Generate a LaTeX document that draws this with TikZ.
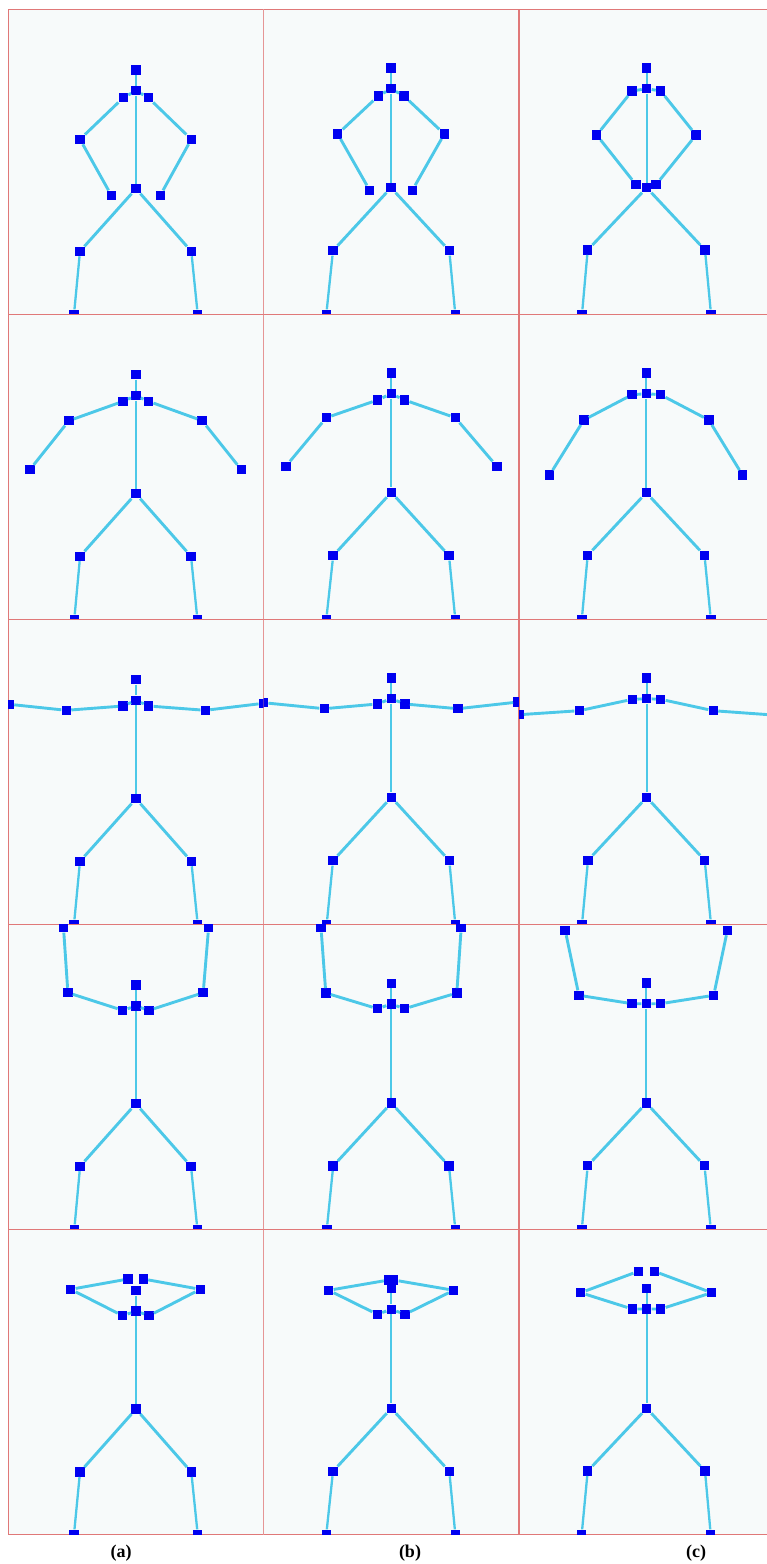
\documentclass[tikz,border=0pt]{standalone}
\usepackage{fontspec}
\newfontfamily\capfont{Liberation Serif}
\usepackage{xcolor}
\definecolor{bonecyan}{RGB}{76,200,232}
\definecolor{jointblue}{RGB}{0,0,240}
\definecolor{panelbg}{RGB}{247,250,250}
\definecolor{panelred}{RGB}{224,120,120}
\usepackage{tikz}
\usetikzlibrary{positioning}

\tikzset{
  joint/.style={rectangle, fill=jointblue, inner sep=0pt, minimum size=9.5pt},
  bone/.style={draw=bonecyan, line width=2.9pt},
  shin/.style={draw=bonecyan, line width=2.3pt},
  spine/.style={draw=bonecyan, line width=2pt},
  panelbox/.style={fill=panelbg, draw=panelred, line width=1.4pt},
  caption/.style={font=\capfont\bfseries\fontsize{18}{21}\selectfont}
}

% one pose: #1 prefix, #2/#3 top left corner, #4 joints name/x/y
\newcommand{\posepanel}[4]{%
  \begin{scope}
    \clip (#2,#3) rectangle ++(255.5,305);
    \draw[panelbox] (#2,#3) rectangle ++(255.5,305);
    \foreach \j/\px/\py in {#4}
      \node[joint] (#1-\j) at (\px,\py) {};
    \draw[spine] (#1-h) -- (#1-n);
    \draw[spine] (#1-n) -- (#1-hp);
    \draw[bone] (#1-n) -- (#1-ls) -- (#1-le) -- (#1-lh);
    \draw[bone] (#1-n) -- (#1-rs) -- (#1-re) -- (#1-rh);
    \draw[bone] (#1-hp) -- (#1-lk);
    \draw[bone] (#1-hp) -- (#1-rk);
    \draw[shin] (#1-lk) -- (#1-lf);
    \draw[shin] (#1-rk) -- (#1-rf);
  \end{scope}}

\begin{document}
\begin{tikzpicture}[x=1pt, y=-1pt]
  \useasboundingbox (0,0) rectangle (766,1564);

  % --- Row 1: hands at the hips ---
  \posepanel{a1}{8}{9.5}{h/136/70, n/136/90.7, ls/123.3/97.7, rs/148.3/97.7, le/80/139.3, re/191.3/139.3, lh/111.3/195.3, rh/160.3/195.3, hp/136/188.7, lk/80/251.3, rk/191.3/251.3, lf/74/314.3, rf/197.7/314.3}
  \posepanel{b1}{263.5}{9.5}{h/391/68, n/391/88.7, ls/378.3/96, rs/404/96, le/337.7/134, re/444.3/134, lh/369.7/190.3, rh/412.3/190.3, hp/391/187.7, lk/333/250.7, rk/449.3/250.7, lf/326.3/314.3, rf/455.3/314.3}
  \posepanel{c1}{519}{9.5}{h/646.7/68, n/646.7/88.7, ls/632/91, rs/660.7/91, le/596.7/135, re/696/135, lh/636/184.7, rh/656/184.7, hp/646.7/187.7, lk/587.7/250, rk/705/250, lf/582/314.3, rf/711/314.3}

  % --- Row 2: arms down and out ---
  \posepanel{a2}{8}{314.5}{h/135.8/374.7, n/135.8/395.7, ls/123.1/401.3, rs/148.5/401.3, le/68.9/420.7, re/202.2/420.7, lh/29.8/469.7, rh/241.3/469.7, hp/135.8/493.7, lk/80.1/556.3, rk/191/556.3, lf/74.3/619.3, rf/197.4/619.3}
  \posepanel{b2}{263.5}{314.5}{h/391.3/373, n/391.3/393.7, ls/377.6/400, rs/404.5/400, le/326.3/417.7, re/455.3/417.7, lh/285.8/466.3, rh/496.8/466.3, hp/391.3/492.3, lk/333.2/555.7, rk/449/555.7, lf/326.3/619.3, rf/455.3/619.3}
  \posepanel{c2}{519}{314.5}{h/646.3/373, n/646.3/393.7, ls/632.1/394.7, rs/660.5/394.7, le/583.8/420, re/708.8/420, lh/549.6/475, rh/742.5/475, hp/646.3/492.7, lk/587.7/555.3, rk/704.5/555.3, lf/581.8/619.3, rf/710.8/619.3}

  % --- Row 3: arms stretched sideways ---
  \posepanel{a3}{8}{619.5}{h/136/679.7, n/136/700.3, ls/123/706, rs/148.7/706, le/66.3/710.3, re/205.3/710.3, lh/9.3/704.3, rh/263.5/703.3, hp/136/798.7, lk/80/861.3, rk/191.3/861.3, lf/74/924.3, rf/197.7/924.3}
  \posepanel{b3}{263.5}{619.5}{h/391.3/678, n/391.3/698.7, ls/377.3/704, rs/405/704, le/324.3/708.7, re/458/708.7, lh/263.5/702.7, rh/518/702, hp/391.3/797.3, lk/333/860.7, rk/449.3/860.7, lf/326.7/924.3, rf/455.3/924.3}
  \posepanel{c3}{519}{619.5}{h/646.7/678, n/646.7/698.7, ls/632.3/699.3, rs/660.7/699.3, le/579.3/710.7, re/713.3/710.7, lh/519/714.7, rh/773/715, hp/646.7/797.3, lk/588/860.3, rk/704.7/860.3, lf/582/924.3, rf/711/924.3}

  % --- Row 4: arms raised up ---
  \posepanel{a4}{8}{924.5}{h/135.8/985, n/135.8/1006, ls/122.6/1010.3, rs/149/1010.3, le/67.9/992.7, re/203.2/992.7, lh/63.5/927.7, rh/208.6/927.7, hp/135.8/1103.7, lk/80.1/1166.3, rk/191/1166.3, lf/74.3/1229.3, rf/197.4/1229.3}
  \posepanel{b4}{263.5}{924.5}{h/391.3/983.3, n/391.3/1004, ls/377.6/1008.7, rs/404.5/1008.7, le/325.8/993, re/456.8/993, lh/321/927.7, rh/461.2/927.7, hp/391.3/1103, lk/333.2/1166, rk/449/1166, lf/326.8/1229.3, rf/455.3/1229.3}
  \posepanel{c4}{519}{924.5}{h/646.3/983, n/646.3/1003.7, ls/632.1/1003.7, rs/660.5/1003.7, le/578.9/995.3, re/713.7/995.3, lh/565.2/930.3, rh/727.4/930.3, hp/646.3/1103, lk/587.7/1165.7, rk/704.5/1165.7, lf/581.8/1229.3, rf/710.8/1229.3}

  % --- Row 5: hands over the head ---
  \posepanel{a5}{8}{1229.5}{h/136/1290.7, n/136/1311, ls/122.7/1315.7, rs/149/1315.7, le/70.7/1289.3, re/200.3/1289.3, lh/128/1279, rh/143.3/1279, hp/136/1409, lk/80/1472, rk/191.3/1472, lf/74/1534.3, rf/197.7/1534.3}
  \posepanel{b5}{263.5}{1229.5}{h/391.3/1288.3, n/391.3/1309.3, ls/377.3/1314.3, rs/405/1314.3, le/328.7/1290.3, re/453.7/1290.3, lh/388.7/1280, rh/393.7/1280, hp/391.3/1408.3, lk/333/1471.3, rk/449.3/1471.3, lf/326.3/1534.3, rf/455.3/1534.3}
  \posepanel{c5}{519}{1229.5}{h/646.7/1288.3, n/646.7/1309, ls/632.3/1309, rs/660.7/1309, le/580.7/1292.7, re/711.7/1292.7, lh/638.3/1271.3, rh/654.3/1271.3, hp/646.7/1408.3, lk/587.7/1471, rk/705/1471, lf/581.7/1534.3, rf/710.7/1534.3}

  % --- Captions ---
  \node[caption] (capa) at (121,1553) {(a)};
  \node[caption] (capb) at (410,1553) {(b)};
  \node[caption] (capc) at (696,1553) {(c)};
\end{tikzpicture}
\end{document}
